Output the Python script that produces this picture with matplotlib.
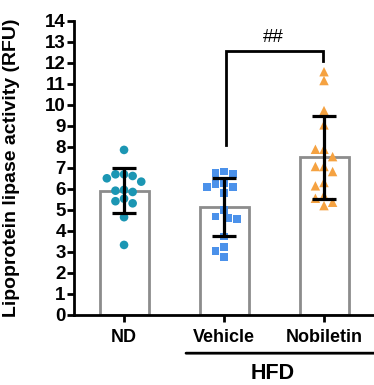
import matplotlib
matplotlib.use('Agg')

import numpy as np
import matplotlib.pyplot as plt

groups = ["ND", "Vehicle", "Nobiletin"]
nd = [7.85, 6.69, 6.50, 6.61, 6.69, 6.34, 5.95, 5.91, 5.85, 5.53, 5.31, 5.41, 4.65, 3.33]
vehicle = [6.82, 6.71, 6.74, 6.22, 6.08, 5.79, 6.10, 6.27, 4.99, 4.68, 4.57, 4.60,
           3.73, 3.25, 2.77, 3.04]
nobiletin = [11.57, 11.15, 9.72, 9.04, 7.88, 7.88, 7.53, 7.06, 7.06, 6.82, 6.30, 6.14,
             5.55, 5.68, 5.20, 5.36]
data = [nd, vehicle, nobiletin]
colors = ["#1b96b3", "#4b91ea", "#f5a241"]
markers = ["o", "s", "^"]
msizes = [6.2, 5.6, 6.8]
yticks = list(range(0, 15))

plt.rcParams["font.family"] = ["Liberation Sans", "DejaVu Sans"]
plt.rcParams["font.weight"] = "bold"

fig = plt.figure(figsize=(3.74, 3.85), dpi=100)
ax = fig.add_axes([0.198, 0.182, 0.802, 0.7644])
ax.set_xlim(-0.5, 2.5)
ax.set_ylim(0, 14)

px_x = fig.get_figwidth() * fig.dpi * 0.802 / 3.0     # pixels per x unit
px_y = fig.get_figheight() * fig.dpi * 0.7644 / 14.0  # pixels per y unit


def swarm(vals, diam):
    # simple greedy beeswarm, done in pixel space
    placed = []
    offs = np.zeros(len(vals))
    order = np.argsort(vals)[::-1]
    for i in order:
        y = vals[i] * px_y
        best = None
        for k in range(0, 30):
            for s in ([0] if k == 0 else [-1, 1]):
                x = s * k * diam * 0.5
                if all((x - px) ** 2 + (y - py) ** 2 >= diam ** 2 for px, py in placed):
                    if best is None or abs(x) < abs(best):
                        best = x
            if best is not None:
                break
        placed.append((best, y))
        offs[i] = best / px_x
    return offs


for i, vals in enumerate(data):
    vals = np.array(vals)
    m = vals.mean()
    sd = vals.std(ddof=1)
    ax.bar(i, m, width=0.49, facecolor="white", edgecolor="#8c8c8c", linewidth=2, zorder=1)
    ax.scatter(i + swarm(vals, 8.6), vals, marker=markers[i], s=msizes[i] ** 2,
               color=colors[i], edgecolors="none", zorder=2)
    ax.errorbar(i, m, yerr=sd, fmt="none", ecolor="black", elinewidth=2.3,
                capsize=8.5, capthick=2.3, zorder=3)

# significance bracket
ax.plot([1.02, 1.02, 1.99, 1.99], [8.1, 12.55, 12.55, 12.1], color="black", lw=2,
        solid_joinstyle="miter", clip_on=False)
ax.text(1.49, 12.8, "##", ha="center", va="bottom", fontsize=13.5, fontweight="normal")

for s in ["top", "right"]:
    ax.spines[s].set_visible(False)
for s in ["left", "bottom"]:
    ax.spines[s].set_linewidth(2)
ax.set_yticks(yticks)
ax.set_yticklabels([str(t) for t in yticks], fontsize=13.5, fontweight="bold")
ax.set_xticks(range(len(groups)))
ax.set_xticklabels(groups, fontsize=13, fontweight="bold")
ax.tick_params(axis="both", width=2, length=5, direction="out")
ax.tick_params(axis="x", pad=5)
ax.tick_params(axis="y", pad=1)
ax.set_ylabel("Lipoprotein lipase activity (RFU)", fontsize=14, fontweight="bold")
ax.yaxis.set_label_coords(-0.18, 0.5)

# HFD group line
ax.annotate("", xy=(0.62, -0.13), xytext=(2.5, -0.13), xycoords=("data", "axes fraction"),
            arrowprops=dict(arrowstyle="-", lw=2, color="black", shrinkA=0, shrinkB=0))
ax.text(1.49, -0.2175, "HFD", transform=ax.get_xaxis_transform(), ha="center", va="baseline",
        fontsize=15.5, fontweight="bold")

fig.savefig("out.png", dpi=100)
